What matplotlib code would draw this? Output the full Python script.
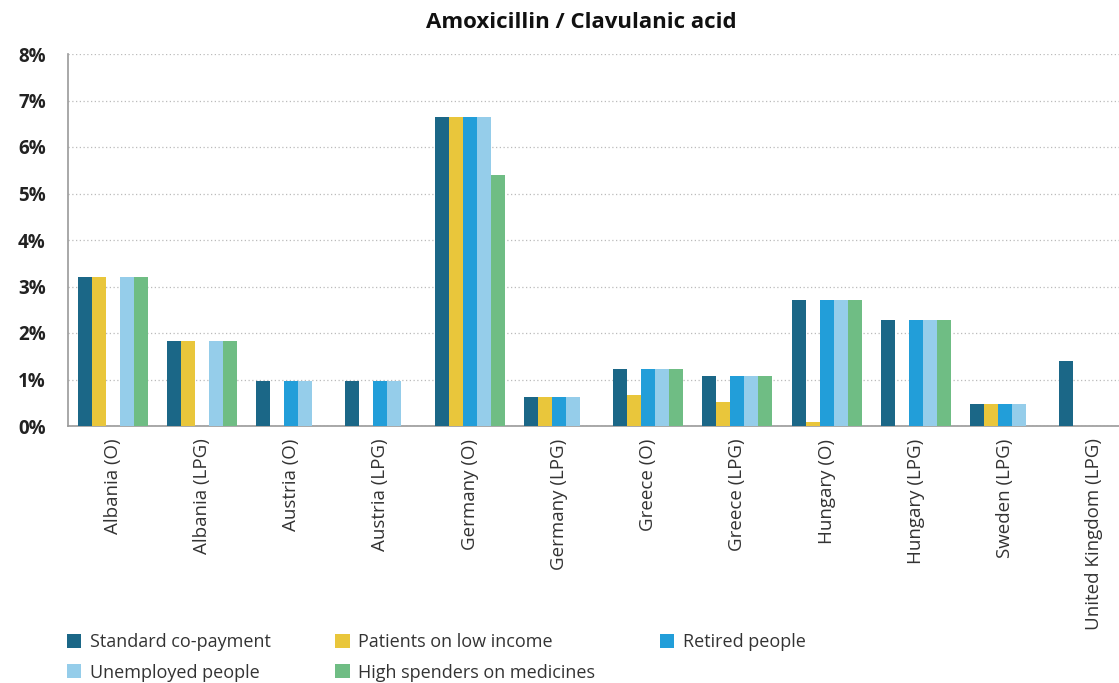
import numpy as np
import matplotlib
matplotlib.use("Agg")
import matplotlib.pyplot as plt
from matplotlib.ticker import FuncFormatter

# ===============================================================================

categories = ["Albania (O)", "Albania (LPG)", "Austria (O)", "Austria (LPG)",
              "Germany (O)", "Germany (LPG)", "Greece (O)", "Greece (LPG)",
              "Hungary (O)", "Hungary (LPG)", "Sweden (LPG)", "United Kingdom (LPG)"]

standard   = [3.20, 1.83, 0.96, 0.96, 6.65, 0.62, 1.22, 1.08, 2.72, 2.28, 0.47, 1.40]
low_income = [3.20, 1.83, 0.00, 0.00, 6.65, 0.62, 0.66, 0.51, 0.09, 0.00, 0.47, 0.00]
retired    = [0.00, 0.00, 0.96, 0.96, 6.65, 0.62, 1.22, 1.08, 2.72, 2.28, 0.47, 0.00]
unemployed = [3.20, 1.83, 0.96, 0.96, 6.65, 0.62, 1.22, 1.08, 2.72, 2.28, 0.47, 0.00]
high_spend = [3.20, 1.83, 0.00, 0.00, 5.40, 0.00, 1.22, 1.08, 2.72, 2.28, 0.00, 0.00]

series_names = ["Standard co-payment", "Patients on low income", "Retired people",
                "Unemployed people", "High spenders on medicines"]
series = [standard, low_income, retired, unemployed, high_spend]
colors = ["#1b6787", "#e9c63b", "#229ed9", "#95cdea", "#6fbd84"]

yticks = [0, 1, 2, 3, 4, 5, 6, 7, 8]

# ===============================================================================

plt.rcParams['font.family'] = ['Open Sans', 'DejaVu Sans']

fig = plt.figure(figsize=(11.19, 6.83), dpi=100)
W, H = 1119.0, 683.0
ax = fig.add_axes([68/W, (H-426)/H, (1139-68)/W, (426-54)/H])

x = np.arange(len(categories))
bw = 0.157
handles = []
for i, (vals, c) in enumerate(zip(series, colors)):
    b = ax.bar(x + (i-2)*bw, vals, width=bw, color=c, linewidth=0, zorder=3)
    handles.append(b)

ax.set_xlim(-0.5, len(categories)-0.5)
ax.set_ylim(0, 8)
ax.set_yticks(yticks)
ax.yaxis.set_major_formatter(FuncFormatter(lambda v, p: "%d%%" % v))
for lab in ax.get_yticklabels():
    lab.set_fontweight('bold')
    lab.set_fontsize(13.5)
    lab.set_color('#222222')
ax.tick_params(axis='y', length=0, pad=16)
ax.set_xticks(x)
ax.set_xticklabels(categories, rotation=90, fontsize=13.5, color='#333333')
ax.tick_params(axis='x', length=0, pad=9)

ax.grid(axis='y', ls=(0, (1, 2)), color='#bbbbbb', lw=0.9, zorder=0)
for s in ['top', 'right']:
    ax.spines[s].set_visible(False)
for s in ['left', 'bottom']:
    ax.spines[s].set_color('#999999')
    ax.spines[s].set_linewidth(1.2)

fig.text(581/W, 1-22/H, "Amoxicillin / Clavulanic acid", ha='center', va='center',
         fontsize=16, fontweight='bold', color='#111111')

order = [0, 3, 1, 4, 2]
fig.legend([handles[k] for k in order], [series_names[k] for k in order],
           ncol=3, loc='upper left', bbox_to_anchor=(67/W, 1-633/H),
           frameon=False, fontsize=13, handlelength=0.8, handleheight=0.8,
           handletextpad=0.45, columnspacing=3.6, labelspacing=0.7,
           labelcolor='#333333', borderaxespad=0, borderpad=0)

plt.savefig("out.png", dpi=100)
plt.close()
